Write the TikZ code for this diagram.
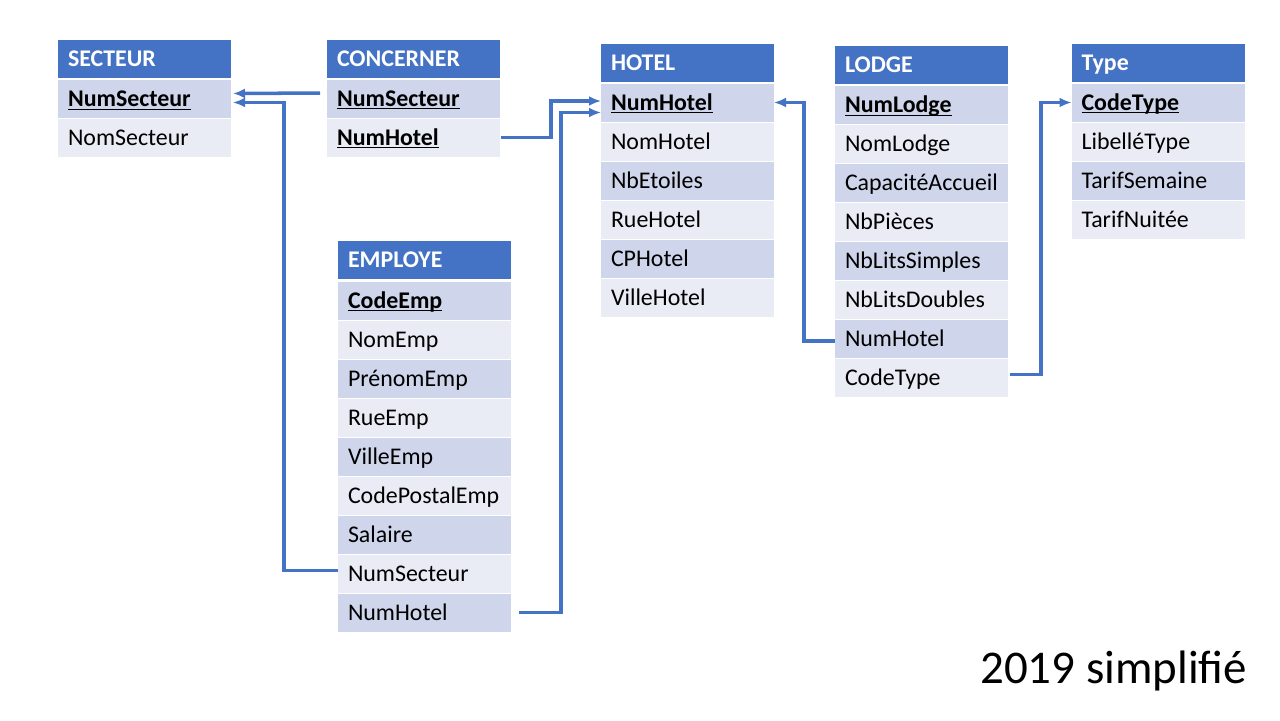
\documentclass[tikz,border=0pt]{standalone}
\usepackage{fontspec}
\setmainfont{Carlito}
\usepackage{tikz}
\usetikzlibrary{arrows,arrows.meta,shapes,positioning}
\definecolor{headblue}{HTML}{4472C4}
\definecolor{rowdark}{HTML}{CFD5EA}
\definecolor{rowlight}{HTML}{E9EBF5}
\tikzstyle{fieldnode} = [rectangle, text width=3.06cm, inner xsep=0.2cm, inner ysep=0pt, outer sep=0pt,
    minimum height=0.76cm, align=left, text height=11.4pt, text depth=2.7pt,
    font=\fontsize{13.6}{16}\selectfont]
\tikzstyle{headnode} = [fieldnode, fill=headblue, text=white, font=\fontsize{13.6}{16}\selectfont\bfseries]
\tikzstyle{darknode} = [fieldnode, fill=rowdark]
\tikzstyle{lightnode} = [fieldnode, fill=rowlight]
\tikzstyle{line} = [draw, headblue, line width=2pt, -{Latex[length=0.24cm, width=0.2cm]}]
\newcommand{\keyfield}[1]{\textbf{\underline{\smash{#1}}}}

\begin{document}
\begin{tikzpicture}
    \useasboundingbox (0,0) rectangle (25.6,-14.4);
    % Place nodes

    \node [headnode] (secteur) at (2.89,-1.18) {SECTEUR};
    \node [darknode, below=0.04cm of secteur] (secteurNum) {\keyfield{NumSecteur}};
    \node [lightnode, below=0.02cm of secteurNum] (secteurNom) {NomSecteur};

    \node [headnode] (concerner) at (8.27,-1.17) {CONCERNER};
    \node [darknode, below=0.04cm of concerner] (concernerSect) {\keyfield{NumSecteur}};
    \node [lightnode, below=0.02cm of concernerSect] (concernerHotel) {\keyfield{NumHotel}};

    \node [headnode] (hotel) at (13.75,-1.25) {HOTEL};
    \node [darknode, below=0.04cm of hotel] (hotelNum) {\keyfield{NumHotel}};
    \node [lightnode, below=0.02cm of hotelNum] (hotelNom) {NomHotel};
    \node [darknode, below=0.02cm of hotelNom] (hotelEtoiles) {NbEtoiles};
    \node [lightnode, below=0.02cm of hotelEtoiles] (hotelRue) {RueHotel};
    \node [darknode, below=0.02cm of hotelRue] (hotelCP) {CPHotel};
    \node [lightnode, below=0.02cm of hotelCP] (hotelVille) {VilleHotel};

    \node [headnode] (lodge) at (18.43,-1.30) {LODGE};
    \node [darknode, below=0.04cm of lodge] (lodgeNum) {\keyfield{NumLodge}};
    \node [lightnode, below=0.02cm of lodgeNum] (lodgeNom) {NomLodge};
    \node [darknode, below=0.02cm of lodgeNom] (lodgeCapa) {CapacitéAccueil};
    \node [lightnode, below=0.02cm of lodgeCapa] (lodgePieces) {NbPièces};
    \node [darknode, below=0.02cm of lodgePieces] (lodgeSimples) {NbLitsSimples};
    \node [lightnode, below=0.02cm of lodgeSimples] (lodgeDoubles) {NbLitsDoubles};
    \node [darknode, below=0.02cm of lodgeDoubles] (lodgeHotel) {NumHotel};
    \node [lightnode, below=0.02cm of lodgeHotel] (lodgeCode) {CodeType};

    \node [headnode] (type) at (23.16,-1.25) {Type};
    \node [darknode, below=0.04cm of type] (typeCode) {\keyfield{CodeType}};
    \node [lightnode, below=0.02cm of typeCode] (typeLib) {LibelléType};
    \node [darknode, below=0.02cm of typeLib] (typeSemaine) {TarifSemaine};
    \node [lightnode, below=0.02cm of typeSemaine] (typeNuitee) {TarifNuitée};

    \node [headnode] (employe) at (8.49,-5.19) {EMPLOYE};
    \node [darknode, below=0.06cm of employe] (employeCode) {\keyfield{CodeEmp}};
    \node [lightnode, below=0.02cm of employeCode] (employeNom) {NomEmp};
    \node [darknode, below=0.02cm of employeNom] (employePrenom) {PrénomEmp};
    \node [lightnode, below=0.02cm of employePrenom] (employeRue) {RueEmp};
    \node [darknode, below=0.02cm of employeRue] (employeVille) {VilleEmp};
    \node [lightnode, below=0.02cm of employeVille] (employeCP) {CodePostalEmp};
    \node [darknode, below=0.02cm of employeCP] (employeSalaire) {Salaire};
    \node [lightnode, below=0.02cm of employeSalaire] (employeSect) {NumSecteur};
    \node [darknode, below=0.02cm of employeSect] (employeHotel) {NumHotel};

    \node [anchor=base west, inner sep=0pt, font=\fontsize{26.7}{32}\selectfont] (caption) at (19.6,-13.66) {2019 simplifié};

    % Draw edges
    \path [line, shorten <=0.14cm, shorten >=0.04cm] ([yshift=0.11cm]concernerSect.west) -- ([yshift=0.11cm]secteurNum.east);
    \path [line, shorten >=0.04cm] ([yshift=0.06cm]employeSect.west) -- ++(-1.08,0) |- ([yshift=-0.07cm]secteurNum.east);
    \path [line] ([xshift=0.02cm]concernerHotel.east) -- ++(1.0,0) |- ([yshift=0.03cm]hotelNum.west);
    \path [line] ([xshift=0.16cm]employeHotel.east) -- ++(0.84,0) |- ([yshift=-0.2cm]hotelNum.west);
    \path [line] ([yshift=-0.04cm]lodgeHotel.west) -- ++(-0.62,0) |- (hotelNum.east);
    \path [line] ([xshift=0.04cm,yshift=0.07cm]lodgeCode.east) -- ++(0.62,0) |- (typeCode.west);
\end{tikzpicture}
\end{document}
